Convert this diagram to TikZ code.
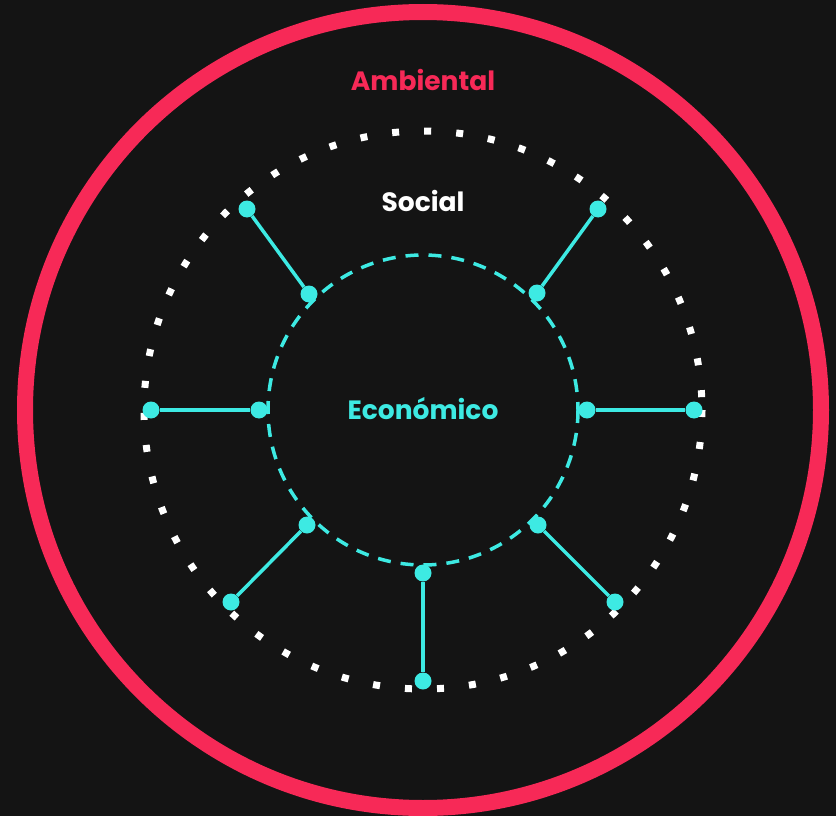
\documentclass[tikz,border=0pt]{standalone}
\usepackage{fontspec}
\setmainfont{Poppins}
\definecolor{bgdark}{RGB}{20, 20, 20}
\definecolor{envred}{RGB}{247, 41, 87}
\definecolor{ecocyan}{RGB}{61, 234, 227}
\usetikzlibrary{positioning, calc}

\begin{document}
\begin{tikzpicture}[
  x=1pt, y=-1pt,
  ring/.style={draw=#1, fill=none},
  knob/.style={circle, fill=ecocyan, draw=none, minimum size=17pt, inner sep=0pt},
  spoke/.style={draw=ecocyan, line width=3.5pt},
  label/.style={text=#1, font=\bfseries\fontsize{26.5}{30}\selectfont},
]
  \fill[bgdark] (0,0) rectangle (836,816);
  \useasboundingbox (0,0) rectangle (836,816);
  \coordinate (centre) at (423,410);

  % three circles
  \draw[ring=envred, line width=16pt] (centre) circle[radius=398];
  \draw[ring=white, line width=7pt, dash pattern=on 7pt off 25.1pt] (centre) circle[radius=279];
  \draw[ring=ecocyan, line width=3.5pt, dash pattern=on 13pt off 10pt] (centre) circle[radius=155];

  % labels
  \node[label=envred] (amb) at (423,80) {Ambiental};
  \node[label=white] (soc) at (423,201) {Social};
  \node[label=ecocyan] (eco) at (423,409) {Económico};

  % knobs on the inner circle
  \node[knob] (i1) at (309,294) {};
  \node[knob] (i2) at (537,293) {};
  \node[knob] (i3) at (259,410) {};
  \node[knob] (i4) at (587,410) {};
  \node[knob] (i5) at (307,525) {};
  \node[knob] (i6) at (538,525) {};
  \node[knob] (i7) at (423,573) {};
  % knobs on the outer circle
  \node[knob] (o1) at (247,209) {};
  \node[knob] (o2) at (598,209) {};
  \node[knob] (o3) at (151,410) {};
  \node[knob] (o4) at (694,410) {};
  \node[knob] (o5) at (231,602) {};
  \node[knob] (o6) at (615,602) {};
  \node[knob] (o7) at (423,681) {};

  \foreach \k in {1,...,7}
    \draw[spoke] (i\k) -- (o\k);
\end{tikzpicture}
\end{document}
